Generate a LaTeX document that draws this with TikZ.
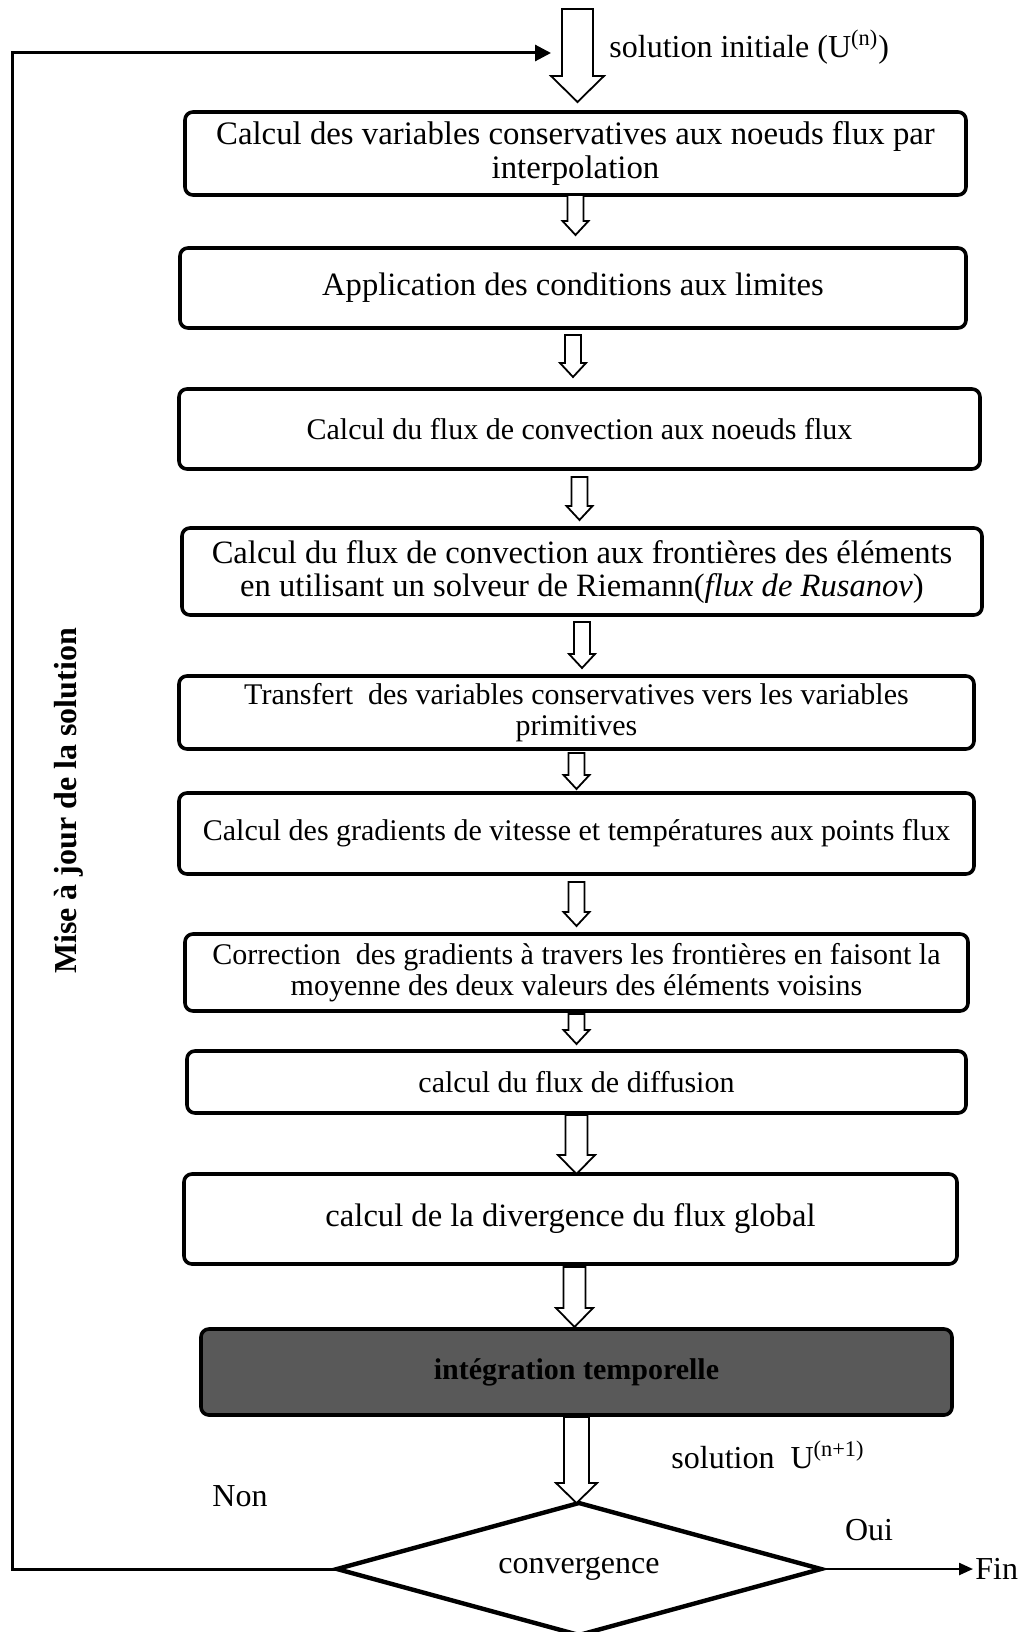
\documentclass[tikz,border=0pt]{standalone}
\usepackage{fontspec}
\setmainfont{Liberation Serif}
\usetikzlibrary{positioning,shapes,arrows.meta,calc}

% hollow block arrow: from, to, half shaft, half head, head length
\newcommand{\hollowdown}[5]{%
  \draw[hollow] let \p1=(#1), \p2=(#2) in
    (\x1-#3,\y1) -- (\x1-#3,\y2+#5) -- (\x1-#4,\y2+#5) -- (\x1,\y2)
    -- (\x1+#4,\y2+#5) -- (\x1+#3,\y2+#5) -- (\x1+#3,\y1) -- cycle;}

\begin{document}
\begin{tikzpicture}[
  box/.style={draw, rounded corners=4pt, line width=1.8pt, align=center, inner sep=1pt, outer sep=0pt, font=\fontsize{15}{17}\selectfont},
  hollow/.style={line width=0.9pt, fill=white},
  decision/.style={diamond, draw, aspect=3.67, line width=2.2pt, minimum width=242pt, minimum height=66pt, inner sep=0pt, outer sep=0pt, font=\fontsize{16}{18}\selectfont},
  lbl/.style={inner sep=1pt, font=\fontsize{16}{18}\selectfont},
  backline/.style={line width=1.5pt, -{Triangle[length=8pt,width=8pt]}}]
\useasboundingbox (0,0) rectangle (513.5pt,-816pt);

\coordinate (start) at (288.75pt,-4.5pt);
\node[box, minimum width=390.5pt, minimum height=41.5pt, font=\fontsize{16.4}{16.6}\selectfont] (B1) at (287.75pt,-76.75pt)
  {Calcul des variables conservatives aux noeuds flux par\\ interpolation};
\node[box, below=26.5pt of B1, xshift=-1.25pt, minimum width=393pt, minimum height=40pt, font=\fontsize{16.3}{18}\selectfont] (B2)
  {Application des conditions aux limites};
\node[box, below=30.5pt of B2, xshift=3.25pt, minimum width=400.5pt, minimum height=40pt] (B3)
  {Calcul du flux de convection aux noeuds flux};
\node[box, below=29.5pt of B3, xshift=1.25pt, minimum width=400pt, minimum height=43.5pt, font=\fontsize{16.3}{16.5}\selectfont] (B4)
  {Calcul du flux de convection aux frontières des éléments\\ en utilisant un solveur de Riemann(\textit{flux de Rusanov})};
\node[box, below=30.5pt of B4, xshift=-2.75pt, minimum width=397.5pt, minimum height=36.5pt, font=\fontsize{15}{15.5}\selectfont] (B5)
  {Transfert\ \ des variables conservatives vers les variables\\ primitives};
\node[box, below=22pt of B5, minimum width=397.5pt, minimum height=40.5pt] (B6)
  {Calcul des gradients de vitesse et températures aux points flux};
\node[box, below=30pt of B6, minimum width=391.5pt, minimum height=38.5pt, font=\fontsize{15}{15.5}\selectfont] (B7)
  {Correction\ \ des gradients à travers les frontières en faisont la\\ moyenne des deux valeurs des éléments voisins};
\node[box, below=20pt of B7, minimum width=389.5pt, minimum height=31pt] (B8)
  {calcul du flux de diffusion};
\node[box, below=30.5pt of B8, xshift=-3pt, minimum width=386.5pt, minimum height=45pt, font=\fontsize{16.3}{18}\selectfont] (B9)
  {calcul de la divergence du flux global};
\node[box, below=32.5pt of B9, xshift=3pt, minimum width=375.5pt, minimum height=43pt, fill=black!65] (B10)
  {\bfseries intégration temporelle};
\node[decision, below=44pt of B10, xshift=1.25pt] (D) {convergence};
\node[lbl, right=76pt of D] (fin) {Fin};

% labels
\node[lbl, anchor=west] (init) at (303.5pt,-23.5pt) {solution initiale (U\textsuperscript{(n)})};
\node[lbl, anchor=west] (sol) at (334.5pt,-727.5pt) {solution\ \ U\textsuperscript{(n+1)}};
\node[lbl] (non) at (120pt,-748pt) {Non};
\node[lbl] (oui) at (434.5pt,-765pt) {Oui};
\node[lbl, rotate=90, font=\fontsize{16}{18}\selectfont\bfseries] (maj) at (34.5pt,-400.5pt) {Mise à jour de la solution};

% block arrows
\hollowdown{start}{[yshift=5pt]B1.north}{7.75pt}{13.25pt}{13pt}
\hollowdown{B1.south}{[yshift=6.5pt]B2.north}{4pt}{6.5pt}{7pt}
\hollowdown{[yshift=-3.5pt]B2.south}{[yshift=6pt]B3.north}{4pt}{6.5pt}{7pt}
\hollowdown{[yshift=-4pt]B3.south}{[yshift=4pt]B4.north}{4pt}{6.5pt}{7pt}
\hollowdown{[yshift=-3.5pt]B4.south}{[yshift=4pt]B5.north}{4pt}{6.5pt}{7pt}
\hollowdown{[yshift=-2pt]B5.south}{[yshift=2pt]B6.north}{4pt}{6.5pt}{7pt}
\hollowdown{[yshift=-4pt]B6.south}{[yshift=4pt]B7.north}{4pt}{6.5pt}{7pt}
\hollowdown{[yshift=-1.5pt]B7.south}{[yshift=3.5pt]B8.north}{4pt}{6.5pt}{7pt}
\hollowdown{[yshift=-1pt]B8.south}{B9.north}{5.5pt}{9.25pt}{9.5pt}
\hollowdown{[yshift=-1.5pt,xshift=2pt]B9.south}{[yshift=1pt]B10.north}{5.5pt}{9.25pt}{9.5pt}
\hollowdown{[yshift=-1pt]B10.south}{D.north}{6.25pt}{10.25pt}{10pt}

% update loop and exit
\coordinate (corner) at (6.25pt,-26.5pt);
\coordinate (back) at (275.5pt,-26.5pt);
\draw[backline] (D.west) -| (corner) -- (back);
\draw[line width=1.2pt, -{Triangle[length=7pt,width=6pt]}] (D.east) -- (fin.west);
\end{tikzpicture}
\end{document}
